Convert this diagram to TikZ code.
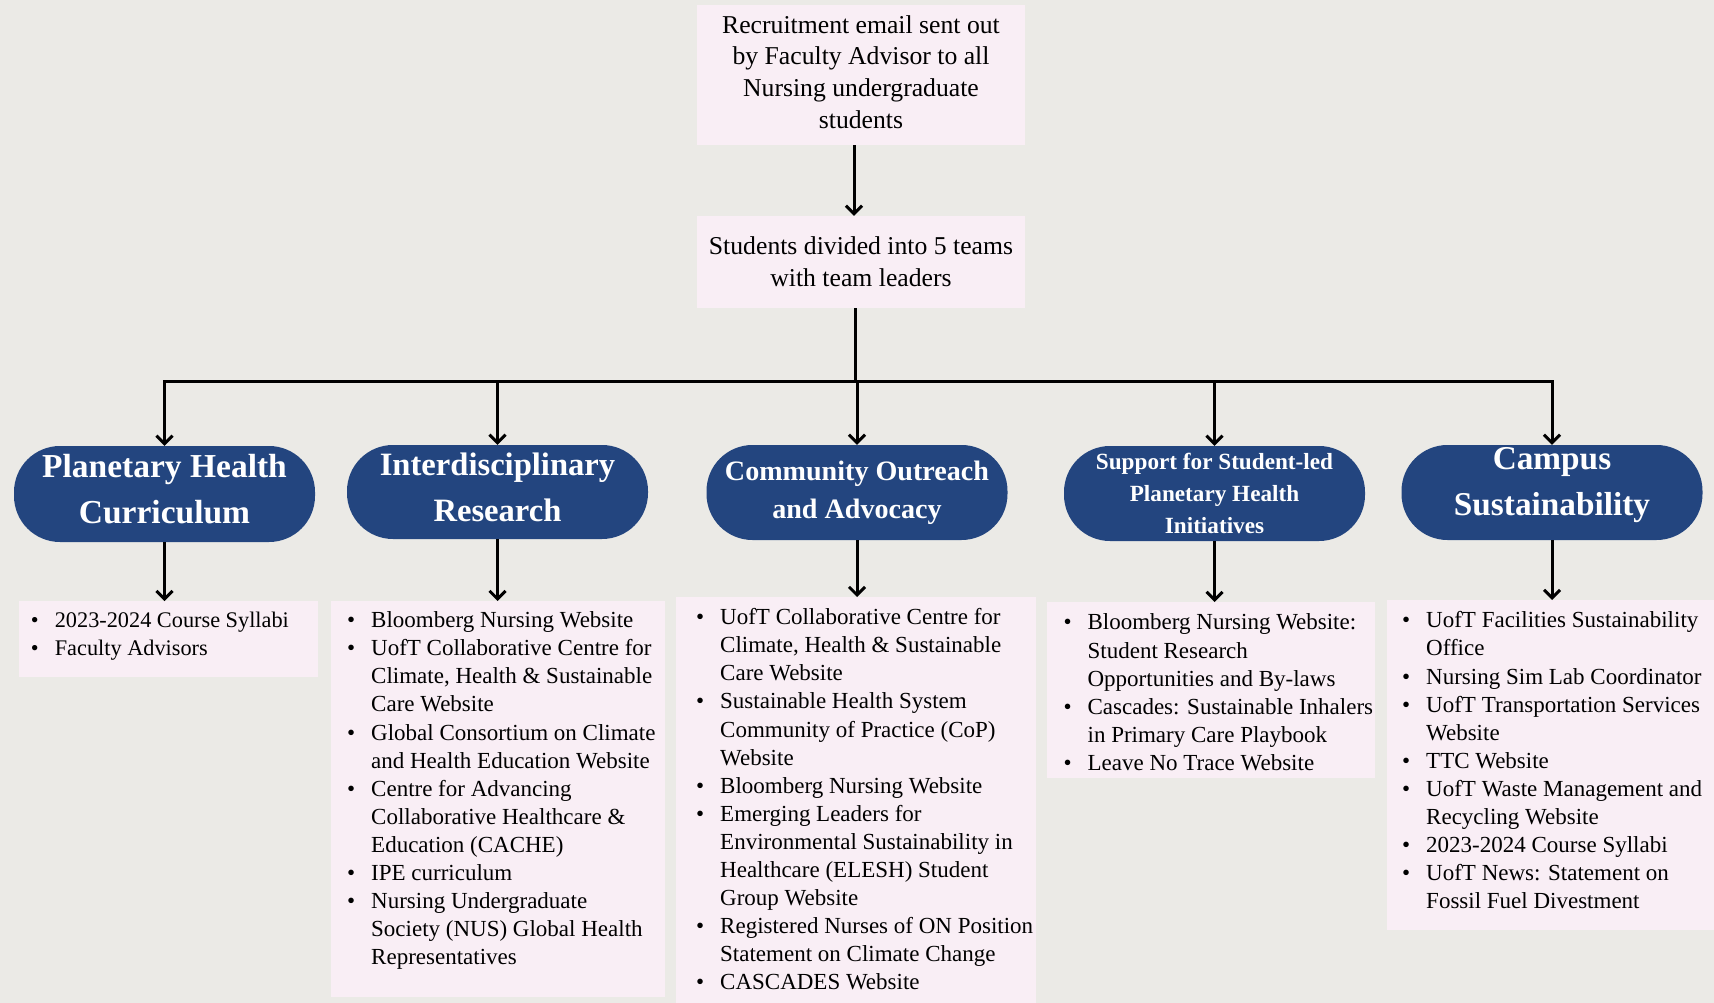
\documentclass[tikz,border=0pt]{standalone}
\usepackage{fontspec}
\setmainfont{Liberation Serif}
\usetikzlibrary{arrows.meta}
\definecolor{bgcol}{HTML}{EBEAE6}
\definecolor{boxpink}{HTML}{F9EEF5}
\definecolor{ovalblue}{HTML}{23457F}
\newcommand\bodyfont{\fontsize{23}{28.1}\selectfont}
\newcommand\mkbox[5]{\makebox[#1][l]{\parbox[t][#2][t]{#1}{\bodyfont\raggedright\hbadness=10000\parskip=0pt
  \vspace*{#3}%
  \begin{list}{\textbullet}{\setlength\leftmargin{#4}\setlength\labelsep{16pt}%
    \setlength\labelwidth{12pt}\setlength\itemsep{0pt}\setlength\parsep{0pt}%
    \setlength\topsep{0pt}\setlength\partopsep{0pt}\setlength\rightmargin{-30pt}%
    \setlength\itemindent{0pt}\setlength\listparindent{0pt}}%
  #5\end{list}}}}
\tikzset{
  conn/.style={line width=3pt, black},
  arr/.style={conn, -{Straight Barb[length=8pt,width=16pt]}},
  topbox/.style={fill=boxpink, inner sep=0pt, minimum width=328pt, align=center,
    font=\fontsize{25.7}{31.7}\selectfont},
  oval/.style={fill=ovalblue, rounded corners=46pt, minimum width=301pt,
    minimum height=95pt, inner sep=0pt, align=center, text=white},
  listbox/.style={fill=boxpink, inner sep=0pt, anchor=north west}
}
\begin{document}
\begin{tikzpicture}[x=1pt,y=-1pt]
\fill[bgcol] (0,0) rectangle (1714,1003);
\useasboundingbox (0,0) rectangle (1714,1003);

\node[topbox, minimum height=140pt] (t1) at (861,75.3)
  {Recruitment email sent out\\by Faculty Advisor to all\\Nursing undergraduate\\students\rule[-7pt]{0pt}{0pt}};
\node[topbox, minimum height=92pt] (t2) at (861,262)
  {Students divided into 5 teams\\with team leaders};

\node[oval, minimum height=96pt, font=\fontsize{33.5}{46}\selectfont\bfseries] (o1) at (164.5,494)
  {Planetary Health\\Curriculum\rule[-10pt]{0pt}{0pt}};
\node[oval, minimum height=94pt, font=\fontsize{32.6}{46}\selectfont\bfseries] (o2) at (497.5,492)
  {Interdisciplinary\\Research\rule[-10pt]{0pt}{0pt}};
\node[oval, font=\fontsize{28.1}{38.3}\selectfont\bfseries] (o3) at (857,492.5)
  {Community Outreach\\and Advocacy};
\node[oval, font=\fontsize{23.2}{31.7}\selectfont\bfseries] (o4) at (1214.5,493.5)
  {Support for Student-led\\Planetary Health\\Initiatives};
\node[oval, font=\fontsize{33.3}{46}\selectfont\bfseries] (o5) at (1552,492.5)
  {Campus\\Sustainability\rule[-22pt]{0pt}{0pt}};

\node[listbox] (b1) at (18.6,601) {\mkbox{299.4pt}{76pt}{11pt}{36pt}{%
  \fontsize{22.3}{28.1}\selectfont
  \item 2023-2024 Course Syllabi
  \item Faculty Advisors}};
\node[listbox] (b2) at (331,601) {\mkbox{334pt}{396pt}{10.5pt}{40pt}{%
  \item Bloomberg Nursing Website
  \item UofT Collaborative Centre for\\Climate, Health \& Sustainable\\Care Website
  \item Global Consortium on Climate\\and Health Education Website
  \item Centre for Advancing\\Collaborative Healthcare \&\\Education (CACHE)
  \item IPE curriculum
  \item Nursing Undergraduate\\Society (NUS) Global Health\\Representatives}};
\node[listbox] (b3) at (676,597) {\mkbox{360pt}{406pt}{11.3pt}{44pt}{%
  \item UofT Collaborative Centre for\\Climate, Health \& Sustainable\\Care Website
  \item Sustainable Health System\\Community of Practice (CoP)\\Website
  \item Bloomberg Nursing Website
  \item Emerging Leaders for\\Environmental Sustainability in\\Healthcare (ELESH) Student\\Group Website
  \item Registered Nurses of ON Position\\Statement on Climate Change
  \item CASCADES Website}};
\node[listbox] (b4) at (1047,602) {\mkbox{328pt}{176pt}{11.8pt}{40.4pt}{%
  \item Bloomberg Nursing Website:\\Student Research\\Opportunities and By-laws
  \item Cascades: Sustainable Inhalers\\in Primary Care Playbook
  \item Leave No Trace Website}};
\node[listbox] (b5) at (1387,600) {\mkbox{327pt}{330pt}{11.5pt}{39pt}{%
  \item UofT Facilities Sustainability\\Office
  \item Nursing Sim Lab Coordinator
  \item UofT Transportation Services\\Website
  \item TTC Website
  \item UofT Waste Management and\\Recycling Website
  \item 2023-2024 Course Syllabi
  \item UofT News: Statement on\\Fossil Fuel Divestment}};

\coordinate (hl) at (855,381.5);
\draw[arr] ([xshift=-7pt]t1.south) -- ([xshift=-7pt]t1.south |- t2.north);
\draw[conn] ([xshift=-6pt]t2.south) -- ([xshift=-6pt]t2.south |- hl);
\draw[conn, line cap=rect] (o1.north |- hl) -- (o5.north |- hl);
\foreach \o in {o1,o2,o3,o4,o5} {
  \draw[arr] (\o.north |- hl) -- (\o.north);
}
\draw[arr] (o1.south) -- (o1.south |- b1.north);
\draw[arr] (o2.south) -- (o2.south |- b2.north);
\draw[arr] (o3.south) -- (o3.south |- b3.north);
\draw[arr] (o4.south) -- (o4.south |- b4.north);
\draw[arr] (o5.south) -- (o5.south |- b5.north);
\end{tikzpicture}
\end{document}
